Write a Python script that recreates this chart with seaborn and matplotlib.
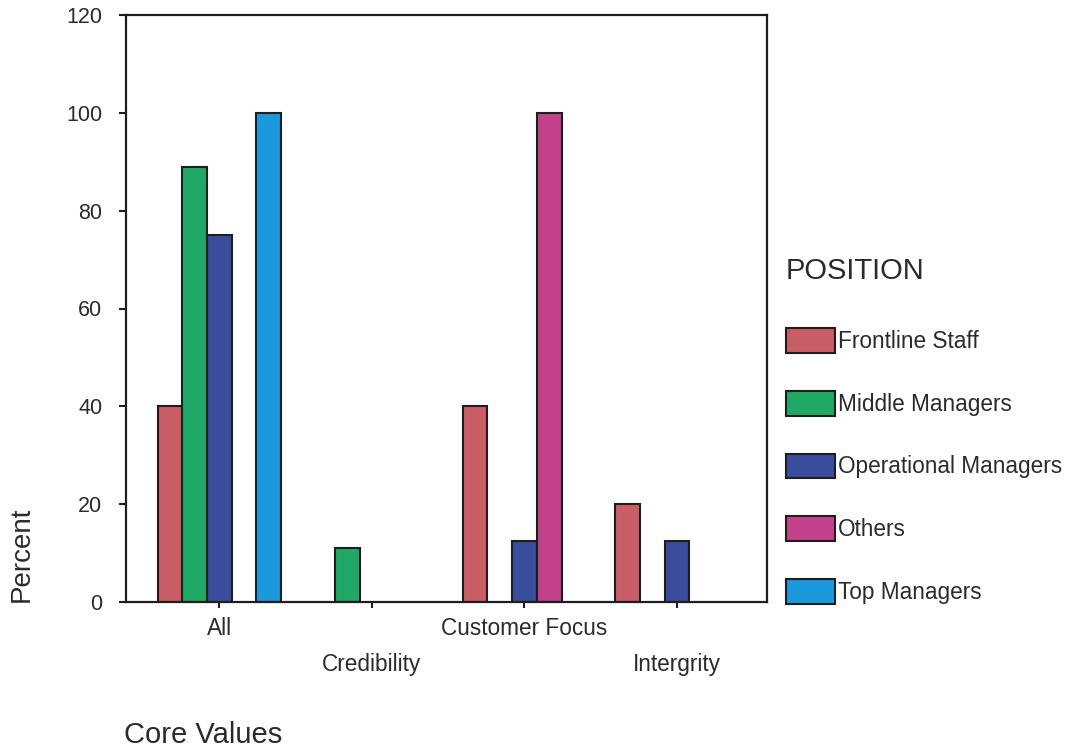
import matplotlib
matplotlib.use("Agg")
import matplotlib.pyplot as plt
import seaborn as sns
import pandas as pd

# Share of respondents (%) naming each core value, by position
core_values = ["All", "Credibility", "Customer Focus", "Intergrity"]
positions = ["Frontline Staff", "Middle Managers", "Operational Managers", "Others", "Top Managers"]
frontline_staff = [40.0, None, 40.0, 20.0]
middle_managers = [88.9, 11.1, None, None]
operational_managers = [75.0, None, 12.5, 12.5]
others = [None, None, 100.0, None]
top_managers = [100.0, None, None, None]
y_ticks = [0, 20, 40, 60, 80, 100, 120]

colors = ["#c95e66", "#1fa866", "#3a4d9c", "#c4418b", "#1c98dc"]

series = [frontline_staff, middle_managers, operational_managers, others, top_managers]
rows = []
for pos, vals in zip(positions, series):
    for cv, v in zip(core_values, vals):
        if v is not None:
            rows.append({"Core Values": cv, "POSITION": pos, "Percent": v})
df = pd.DataFrame(rows)

sns.set_theme(style="white")
plt.rcParams["font.family"] = ["Liberation Sans", "DejaVu Sans"]
text_color = "#2b2b2b"
line_color = "#1e1e1e"

W, H = 1067, 749
fig = plt.figure(figsize=(W / 100, H / 100), dpi=100)
ax = fig.add_axes([126 / W, 1 - 602 / H, 641 / W, 587 / H])

sns.barplot(data=df, x="Core Values", y="Percent", hue="POSITION",
            order=core_values, hue_order=positions, palette=colors,
            saturation=1, width=0.81, edgecolor=line_color, linewidth=1.5,
            errorbar=None, ax=ax)

ax.set_ylim(0, 120)
ax.set_xlim(-0.612, 3.59)
ax.set_yticks(y_ticks)
ax.set_yticklabels([str(t) for t in y_ticks])

# staggered category labels
ax.set_xticks(range(len(core_values)))
ax.set_xticklabels([("\n" if i % 2 else "") + c for i, c in enumerate(core_values)],
                   linespacing=1.72)

for s in ax.spines.values():
    s.set_visible(True)
    s.set_color(line_color)
    s.set_linewidth(1.6)

ax.tick_params(axis="y", direction="out", length=5, width=1.5, color=line_color,
               pad=12, labelsize=15.5, labelcolor=text_color, left=True)
ax.tick_params(axis="x", direction="out", length=4, width=1.5, color=line_color,
               pad=7, labelsize=16.3, labelcolor=text_color, bottom=True)

ax.set_xlabel("")
ax.set_ylabel("")
fig.text(22 / W, 1 - 602 / H, "Percent", rotation=90, ha="center", va="bottom",
         fontsize=20, color=text_color)
fig.text(124 / W, 1 - 735 / H, "Core Values", ha="left", va="center",
         fontsize=21, color=text_color)

handles, labels = ax.get_legend_handles_labels()
if ax.get_legend() is not None:
    ax.get_legend().remove()
leg = fig.legend(handles, labels, title="POSITION", loc="upper left",
                 bbox_to_anchor=(777 / W, 1 - 248 / H), frameon=False,
                 fontsize=16.3, title_fontsize=21, handlelength=2.15,
                 handleheight=1.3, handletextpad=0.15, labelspacing=1.67,
                 alignment="left", borderaxespad=0)
for t in leg.get_texts():
    t.set_color(text_color)
leg.get_title().set_color(text_color)
leg._legend_box.sep = 31
for p in leg.get_patches():
    p.set_edgecolor(line_color)
    p.set_linewidth(1.5)

fig.savefig("out.png", dpi=100, facecolor="white")
